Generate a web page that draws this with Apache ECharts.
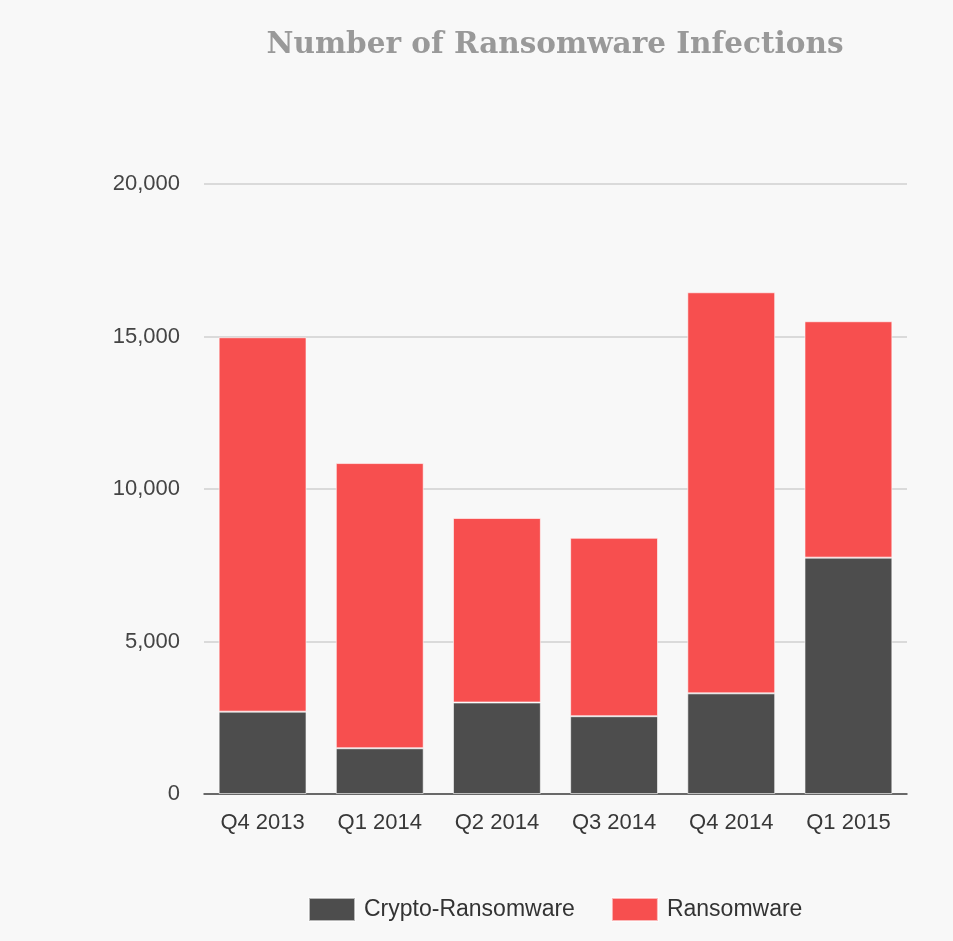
<!DOCTYPE html>
<html>
<head>
<meta charset="utf-8">
<script src="https://cdn.jsdelivr.net/npm/echarts@6/dist/echarts.min.js"></script>
<style>
  html, body { margin: 0; padding: 0; background: #f8f8f8; }
  #chart { width: 953px; height: 941px; }
</style>
</head>
<body>
<div id="chart"></div>
<script>
const categories = ['Q4 2013', 'Q1 2014', 'Q2 2014', 'Q3 2014', 'Q4 2014', 'Q1 2015'];
const cryptoRansomware = [2700, 1500, 3000, 2550, 3300, 7750];
const ransomware = [12275, 9350, 6050, 5850, 13150, 7750];
const yTicks = [0, 5000, 10000, 15000, 20000];

const chart = echarts.init(document.getElementById('chart'));
chart.setOption({
  backgroundColor: '#f8f8f8',
  animation: false,
  title: {
    text: 'Number of Ransomware Infections',
    left: 550,
    top: 25,
    textAlign: 'center',
    textStyle: {
      fontFamily: 'DejaVu Serif',
      fontWeight: 'bold',
      fontSize: 29.5,
      color: '#999999'
    }
  },
  legend: {
    left: 308,
    top: 897,
    padding: 0,
    itemWidth: 46,
    itemHeight: 23,
    itemGap: 36,
    icon: 'rect',
    textStyle: { fontFamily: 'Liberation Sans', fontSize: 23, color: '#333333', padding: [0, 0, 0, 4] },
    data: ['Crypto-Ransomware', 'Ransomware']
  },
  grid: { left: 204, right: 46, top: 184, bottom: 147, containLabel: false },
  xAxis: {
    type: 'category',
    data: categories,
    axisLine: { lineStyle: { color: '#444444', width: 1.5 } },
    axisTick: { show: false },
    axisLabel: { fontFamily: 'Liberation Sans', fontSize: 22, color: '#383838', margin: 18 }
  },
  yAxis: {
    type: 'value',
    min: yTicks[0],
    max: yTicks[yTicks.length - 1],
    interval: 5000,
    axisLine: { show: false },
    axisTick: { show: false },
    splitLine: { lineStyle: { color: '#d0d0d0', width: 1.5 } },
    axisLabel: {
      fontFamily: 'Liberation Sans', fontSize: 22, color: '#444444', margin: 24,
      formatter: v => v.toLocaleString('en-US')
    }
  },
  series: [
    {
      name: 'Crypto-Ransomware',
      type: 'bar',
      stack: 'total',
      data: cryptoRansomware,
      barCategoryGap: '25%',
      itemStyle: { color: '#4d4d4d', borderColor: 'rgba(255,255,255,0.6)', borderWidth: 1 }
    },
    {
      name: 'Ransomware',
      type: 'bar',
      stack: 'total',
      data: ransomware,
      barCategoryGap: '25%',
      itemStyle: { color: '#f74f4f', borderColor: 'rgba(255,255,255,0.6)', borderWidth: 1 }
    }
  ]
});
</script>
</body>
</html>
